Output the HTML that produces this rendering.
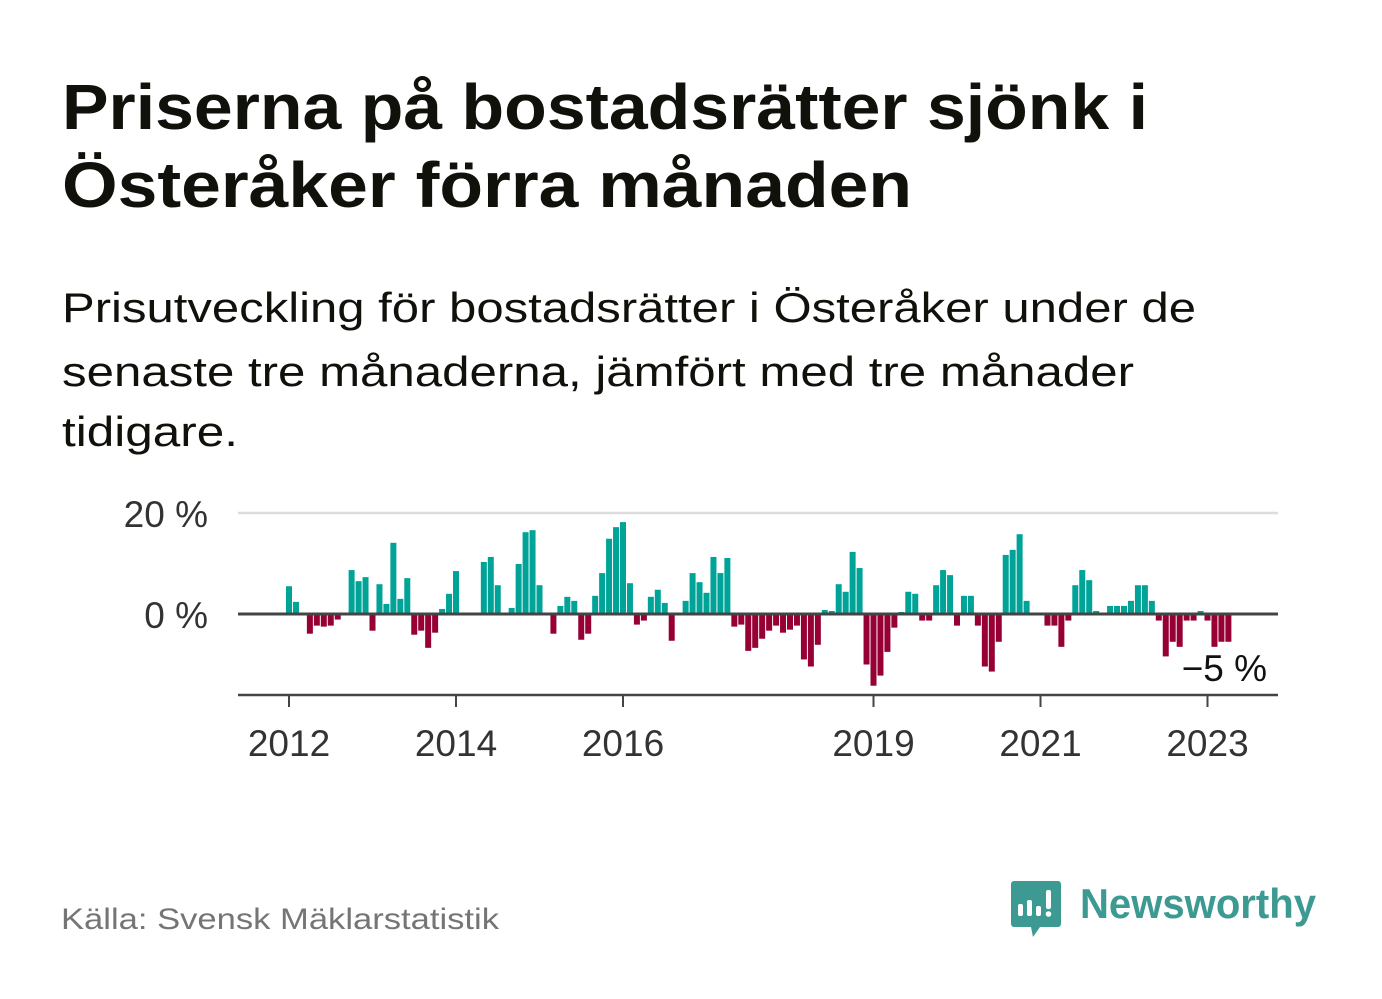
<!DOCTYPE html>
<html><head><meta charset="utf-8">
<style>
html,body{margin:0;padding:0;background:#fff;}
svg{display:block;font-family:"Liberation Sans","DejaVu Sans",sans-serif;}
</style></head>
<body>
<svg id="page" width="1382" height="999" viewBox="0 0 1382 999" xmlns="http://www.w3.org/2000/svg">
  <rect width="1382" height="999" fill="#fff"/>
  <g fill="#11110c" font-weight="bold" font-size="64">
    <text x="62" y="129" textLength="1086" lengthAdjust="spacingAndGlyphs">Priserna på bostadsrätter sjönk i</text>
    <text x="62" y="207" textLength="850" lengthAdjust="spacingAndGlyphs">Österåker förra månaden</text>
  </g>
  <g fill="#11110c" font-size="42">
    <text x="62" y="322" textLength="1134" lengthAdjust="spacingAndGlyphs">Prisutveckling för bostadsrätter i Österåker under de</text>
    <text x="62" y="386" textLength="1072" lengthAdjust="spacingAndGlyphs">senaste tre månaderna, jämfört med tre månader</text>
    <text x="62" y="446" textLength="176" lengthAdjust="spacingAndGlyphs">tidigare.</text>
  </g>
  <g id="plot"></g>
  <text x="61" y="929" font-size="30" fill="#757575" textLength="438" lengthAdjust="spacingAndGlyphs">Källa: Svensk Mäklarstatistik</text>
  <g>
    <path d="M1014 881 h44 a3 3 0 0 1 3 3 v40 a3 3 0 0 1 -3 3 h-18 l-7 10 l-2 -10 h-17 a3 3 0 0 1 -3 -3 v-40 a3 3 0 0 1 3 -3z" fill="#3d9a93"/>
    <rect x="1018" y="904" width="5" height="12" rx="2" fill="#fff"/>
    <rect x="1027" y="900" width="5" height="16" rx="2" fill="#fff"/>
    <rect x="1036" y="906" width="5" height="10" rx="2" fill="#fff"/>
    <rect x="1046" y="890" width="5" height="19" rx="2" fill="#fff"/>
    <circle cx="1048.5" cy="914" r="2.8" fill="#fff"/>
    <text x="1080" y="918" font-size="42" font-weight="bold" fill="#3d9a93" textLength="236" lengthAdjust="spacingAndGlyphs">Newsworthy</text>
  </g>
</svg>
<script>
const startYear = 2012;
const values = [5.5,2.4,0,-3.9,-2.3,-2.5,-2.3,-1.1,0.2,8.7,6.5,7.3,
-3.3,5.9,2.0,14.1,3.0,7.1,-4.1,-3.3,-6.7,-3.7,1.0,4.0,
8.5,0,0,0,10.3,11.3,5.7,0,1.2,9.9,16.2,16.6,
5.7,0,-3.9,1.6,3.4,2.6,-5.1,-3.9,3.6,8.1,14.9,17.2,
18.2,6.1,-2.1,-1.3,3.4,4.8,2.2,-5.3,0,2.6,8.1,6.3,
4.2,11.3,8.1,11.1,-2.5,-2.1,-7.3,-6.7,-4.9,-3.3,-2.3,-3.7,
-3.1,-2.3,-9.0,-10.4,-6.1,0.8,0.6,5.9,4.4,12.3,9.1,-10.0,
-14.2,-12.2,-7.5,-2.7,0.4,4.4,4.0,-1.3,-1.3,5.7,8.7,7.7,
-2.3,3.6,3.6,-2.3,-10.4,-11.4,-5.5,11.7,12.7,15.8,2.6,0,
0,-2.3,-2.3,-6.5,-1.3,5.7,8.7,6.7,0.6,0,1.6,1.6,
1.6,2.6,5.7,5.7,2.6,-1.3,-8.4,-5.5,-6.5,-1.3,-1.3,0.6,
-1.3,-6.5,-5.5,-5.5];
const yTicks = [0, 20];
const yTickLabels = ["0 %", "20 %"];
const xTicks = [2012, 2014, 2016, 2019, 2021, 2023];
const xTickLabels = ["2012","2014","2016","2019","2021","2023"];
const lastLabel = "\u22125 %";

const NS = "http://www.w3.org/2000/svg";
const plot = document.getElementById('plot');
const X0 = 289, PER_YEAR = 83.5;
const Y0 = 614, PER_PCT = 5.05;
const xMonth = i => X0 + i * PER_YEAR / 12;
const xYear = y => X0 + (y - startYear) * PER_YEAR;
const yVal = v => Y0 - v * PER_PCT;
function mk(tag, attrs){ const e=document.createElementNS(NS,tag); for(const k in attrs) e.setAttribute(k, attrs[k]); plot.appendChild(e); return e; }

yTicks.forEach((t, k) => {
  if (t !== 0) {
    const g = mk('line',{x1:238,x2:1278,y1:yVal(t),y2:yVal(t),stroke:'#dcdcdc','stroke-width':2.5});
    
    
  }
  const l = mk('text',{x:208,y:yVal(t)+14,'text-anchor':'end','font-size':37,fill:'#333'});
  l.textContent = yTickLabels[k];
  
  
});

values.forEach((v, i) => {
  if (v === 0) return;
  const y = Math.min(yVal(v), Y0), h = Math.abs(v) * PER_PCT;
  const b = mk('rect',{x:xMonth(i)-3,y:y,width:6,height:h,fill:v>0?'#00a398':'#960035'});
  
  
});

const z = mk('line',{x1:238,x2:1278,y1:Y0,y2:Y0,stroke:'#444','stroke-width':3});



const ax = mk('line',{x1:238,x2:1278,y1:695,y2:695,stroke:'#444','stroke-width':2.5});


xTicks.forEach((yr, k) => {
  const t = mk('line',{x1:xYear(yr),x2:xYear(yr),y1:695,y2:707,stroke:'#444','stroke-width':2});
  
  
  const l = mk('text',{x:xYear(yr),y:756,'text-anchor':'middle','font-size':37,fill:'#333'});
  l.textContent = xTickLabels[k];
  
  
});

const ll = mk('text',{x:1267,y:681,'text-anchor':'end','font-size':37,fill:'#111'});
ll.textContent = lastLabel;


</script>
</body></html>
